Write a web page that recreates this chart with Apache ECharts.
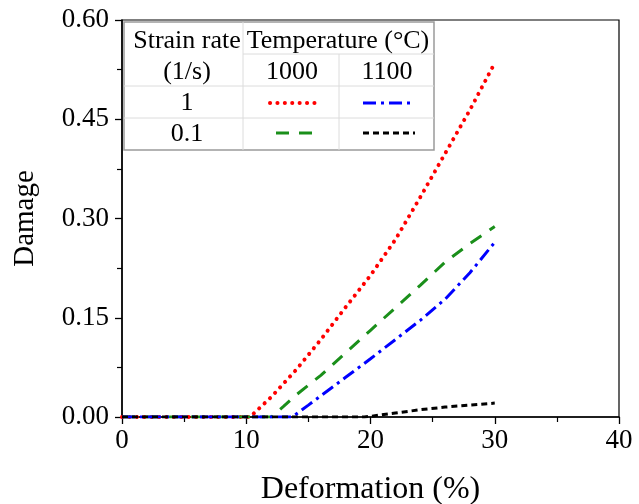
<!DOCTYPE html>
<html><head><meta charset="utf-8">
<script src="https://cdn.jsdelivr.net/npm/echarts@6/dist/echarts.min.js"></script>
<style>html,body{margin:0;padding:0;background:#fff}#c{width:639px;height:504px}</style>
</head><body><div id="c"></div>
<script>
const red1000_1 = [[0,0],[10.3,0],[12,0.03],[14,0.071],[16,0.117],[18,0.166],[20,0.214],[22,0.268],[24,0.332],[26,0.398],[28,0.464],[30,0.535]];
const green1000_01 = [[0,0],[12,0],[13,0.016],[14,0.033],[16,0.063],[18,0.097],[20,0.131],[22,0.165],[24,0.199],[26,0.234],[28,0.262],[30,0.288]];
const blue1100_1 = [[0,0],[13.7,0],[15,0.018],[16,0.032],[18,0.06],[20,0.088],[22,0.117],[24,0.146],[26,0.178],[28,0.218],[30,0.264]];
const black1100_01 = [[0,0],[19.5,0],[20,0.001],[22,0.006],[24,0.011],[26,0.015],[28,0.018],[30,0.021]];
const yTicks = ['0.00','0.15','0.30','0.45','0.60'];
const tableHeader = ['Strain rate','Temperature (°C)','(1/s)','1000','1100'];
const rateLabels = ['1','0.1'];

const F = 'Liberation Serif, Times New Roman, serif';
const chart = echarts.init(document.getElementById('c'));
const styles = [
  {c:'#ff0000', t:[0.1,7.3], cap:'round', w:4},
  {c:'#1a8f1a', t:[13,10], cap:'butt', w:3},
  {c:'#0000ff', t:[13,5,3,5], cap:'butt', w:3},
  {c:'#000000', t:[6,4], cap:'butt', w:3}
];
const datasets = [red1000_1, green1000_01, blue1100_1, black1100_01];
const series = datasets.map((d,i)=>({
  type:'line', data:d, showSymbol:false, smooth:false, z:3,
  lineStyle:{color:styles[i].c, width:styles[i].w, type:styles[i].t, cap:styles[i].cap}
}));

// legend table graphics
const TL=124, TT=22, TR=434, TB=150, C1=243, C2=339, R1=54, R2=86, R3=118;
const gline=(x1,y1,x2,y2,col)=>({type:'line',shape:{x1,y1,x2,y2},style:{stroke:col||'#dcdcdc',lineWidth:1},z:10});
const gtext=(t,x,y)=>({type:'text',x,y,style:{text:t,font:'26px '+F,fill:'#000',align:'center',verticalAlign:'middle'},z:11});
const sample=(x1,x2,y,s)=>({type:'line',shape:{x1,y1:y,x2,y2:y},style:{stroke:s.c,lineWidth:s.w,lineDash:s.t,lineCap:s.cap},z:11});
const graphic = [
  {type:'rect',shape:{x:TL,y:TT,width:TR-TL,height:TB-TT},style:{fill:'#fff',stroke:'#9a9a9a',lineWidth:1.5},z:9},
  gline(C1,TT,C1,TB), gline(C2,R1,C2,TB), gline(C1,R1,TR,R1), gline(TL,R2,TR,R2), gline(TL,R3,TR,R3),
  gtext(tableHeader[0],187,41), gtext(tableHeader[1],338,41),
  gtext(tableHeader[2],187,72), gtext(tableHeader[3],292,72), gtext(tableHeader[4],387,72),
  gtext(rateLabels[0],187,103), gtext(rateLabels[1],187,134),
  sample(270,318,103,styles[0]), sample(363,415,103,styles[2]),
  sample(276,318,133,styles[1]), sample(363,415,133,styles[3])
];

chart.setOption({
  animation:false,
  backgroundColor:'#fff',
  grid:{left:122,right:20,top:20,bottom:87,containLabel:false,outerBoundsMode:'none',show:true,borderColor:'#000',borderWidth:1.2,backgroundColor:'transparent'},
  xAxis:{type:'value',min:0,max:40,interval:10,
    name:'Deformation (%)',nameLocation:'middle',nameGap:57,
    nameTextStyle:{fontFamily:F,fontSize:32,color:'#000'},
    axisLine:{show:true,onZero:false,lineStyle:{color:'#000',width:1.5}},
    axisTick:{show:true,inside:false,length:7,lineStyle:{color:'#000',width:1.3}},
    minorTick:{show:true,splitNumber:2,length:5,lineStyle:{color:'#000',width:1.2}},
    splitLine:{show:false},
    axisLabel:{fontFamily:F,fontSize:27,color:'#000',margin:10}
  },
  yAxis:{type:'value',min:0,max:0.6,interval:0.15,
    name:'Damage',nameLocation:'middle',nameGap:82,
    nameTextStyle:{fontFamily:F,fontSize:29,color:'#000'},
    axisLine:{show:true,lineStyle:{color:'#000',width:1.5}},
    axisTick:{show:true,inside:false,length:7,lineStyle:{color:'#000',width:1.3}},
    minorTick:{show:true,splitNumber:2,length:5,lineStyle:{color:'#000',width:1.2}},
    splitLine:{show:false},
    axisLabel:{fontFamily:F,fontSize:27,color:'#000',margin:13,formatter:(v)=>yTicks[Math.round(v/0.15)]}
  },
  series,
  graphic
});
</script></body></html>
